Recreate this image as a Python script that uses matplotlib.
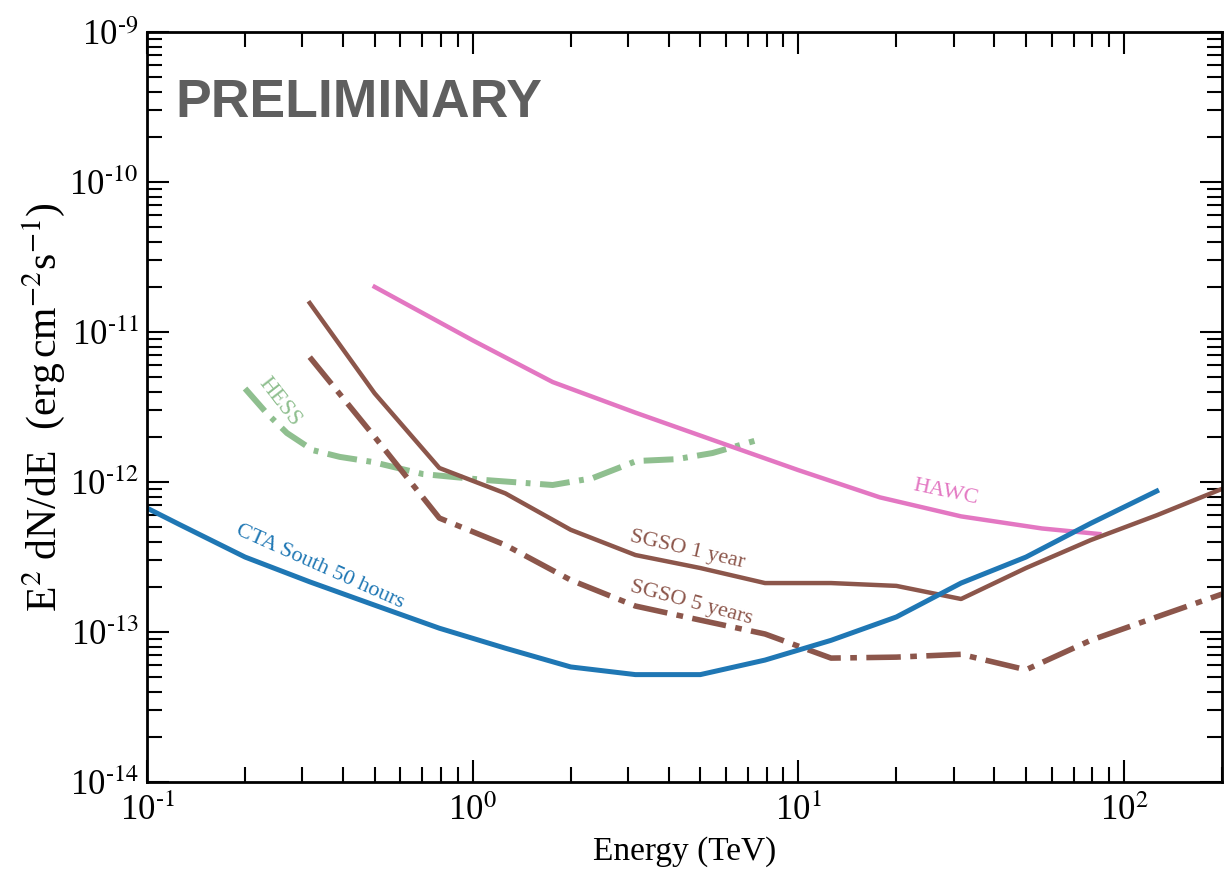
import numpy as np
import matplotlib
matplotlib.use('Agg')
from matplotlib import pyplot as plt
from matplotlib.ticker import LogLocator, FuncFormatter, NullFormatter

plt.rcParams['font.family'] = ['Liberation Serif', 'DejaVu Serif']
plt.rcParams['mathtext.fontset'] = 'stix'

# CTA South 50 hours
cta_e = [0.1, 0.126, 0.2, 0.316, 0.5, 0.79, 1.26, 2.0, 3.16, 5.0, 7.9, 12.6, 20.0, 31.6, 50.0, 79.0, 126.0]
cta_f = [6.7e-13, 5.2e-13, 3.16e-13, 2.16e-13, 1.51e-13, 1.06e-13, 7.8e-14, 5.85e-14, 5.2e-14,
         5.2e-14, 6.5e-14, 8.8e-14, 1.26e-13, 2.12e-13, 3.16e-13, 5.3e-13, 8.7e-13]

# SGSO 1 year
sgso1_e = [0.316, 0.5, 0.79, 1.26, 2.0, 3.16, 5.0, 7.9, 12.6, 20.0, 31.6, 50.0, 79.0, 126.0, 200.0]
sgso1_f = [1.56e-11, 3.9e-12, 1.24e-12, 8.4e-13, 4.8e-13, 3.26e-13, 2.67e-13, 2.12e-13, 2.12e-13,
           2.03e-13, 1.66e-13, 2.67e-13, 4.1e-13, 6.0e-13, 9.0e-13]

# SGSO 5 years
sgso5_e = [0.316, 0.5, 0.79, 1.26, 2.0, 3.16, 5.0, 7.9, 12.6, 20.0, 31.6, 50.0, 79.0, 126.0, 200.0]
sgso5_f = [6.8e-12, 2.0e-12, 5.75e-13, 3.8e-13, 2.22e-13, 1.49e-13, 1.2e-13, 9.7e-14, 6.7e-14,
           6.8e-14, 7.1e-14, 5.6e-14, 8.8e-14, 1.26e-13, 1.79e-13]

# HAWC
hawc_e = [0.5, 1.0, 1.76, 3.16, 5.6, 10.0, 17.8, 31.6, 56.0, 84.0]
hawc_f = [2.0e-11, 8.8e-12, 4.64e-12, 2.9e-12, 1.87e-12, 1.2e-12, 7.9e-13, 5.9e-13, 4.9e-13, 4.5e-13]

# HESS
hess_e = [0.2, 0.233, 0.269, 0.323, 0.391, 0.493, 0.703, 1.1, 1.76, 2.33, 3.18, 4.23, 5.45, 7.33]
hess_f = [4.2e-12, 2.88e-12, 2.12e-12, 1.63e-12, 1.47e-12, 1.36e-12, 1.13e-12, 1.03e-12, 9.55e-13,
          1.06e-12, 1.38e-12, 1.42e-12, 1.56e-12, 1.88e-12]

blue = '#1f77b4'
brown = '#8c564b'
pink = '#e377c2'
green = '#8fbf8f'

fig = plt.figure(figsize=(12.25, 8.72), dpi=100)
ax = fig.add_axes([0.12, 0.1032, 0.8776, 0.8601])

ax.plot(hess_e, hess_f, color=green, lw=4.3, dashes=[5, 1.6, 0.8, 1.6])
ax.plot(hawc_e, hawc_f, color=pink, lw=3.2)
ax.plot(sgso1_e, sgso1_f, color=brown, lw=3.2)
ax.plot(sgso5_e, sgso5_f, color=brown, lw=4.0, dashes=[6.2, 1.7, 1.2, 1.7])
ax.plot(cta_e, cta_f, color=blue, lw=3.6)

ax.set_xscale('log')
ax.set_yscale('log')
ax.set_xlim(0.1, 200)
ax.set_ylim(1e-14, 1e-9)


def pow_label(v, pos):
    e = int(round(np.log10(v)))
    if e < 0:
        return '10$^{\\text{-}%d}$' % -e
    return '10$^{%d}$' % e


for axis in (ax.xaxis, ax.yaxis):
    axis.set_major_locator(LogLocator(base=10, numticks=20))
    axis.set_minor_locator(LogLocator(base=10, subs=np.arange(2, 10), numticks=20))
    axis.set_major_formatter(FuncFormatter(pow_label))
    axis.set_minor_formatter(NullFormatter())

ax.tick_params(which='both', direction='in', top=True, right=True, width=1.5, labelsize=25)
ax.tick_params(which='major', length=16)
ax.tick_params(which='minor', length=10.5)
ax.tick_params(axis='x', which='major', pad=9)
ax.tick_params(axis='y', which='major', pad=6)
for s in ax.spines.values():
    s.set_linewidth(2)

ax.set_xlabel('Energy (TeV)', fontsize=24, labelpad=6)
ax.set_ylabel(r'E$^2$ dN/dE  (erg$\,$cm$^{-2}$s$^{-1}$)', fontsize=30, labelpad=2)

ax.text(0.026, 0.905, 'PRELIMINARY', transform=ax.transAxes, ha='left', va='center',
        fontsize=38.5, fontweight='bold', color='#5f5f5f', family='Liberation Sans')

ax.text(0.34, 2.71e-13, 'CTA South 50 hours', color=blue, fontsize=16, rotation=-24,
        ha='center', va='center', rotation_mode='anchor')
ax.text(0.256, 3.41e-12, 'HESS', color=green, fontsize=16.5, rotation=-52,
        ha='center', va='center', rotation_mode='anchor')
ax.text(4.57, 3.52e-13, 'SGSO 1 year', color=brown, fontsize=16, rotation=-13,
        ha='center', va='center', rotation_mode='anchor')
ax.text(4.7, 1.56e-13, 'SGSO 5 years', color=brown, fontsize=16, rotation=-15,
        ha='center', va='center', rotation_mode='anchor')
ax.text(28.4, 8.45e-13, 'HAWC', color=pink, fontsize=16, rotation=-12,
        ha='center', va='center', rotation_mode='anchor')

fig.savefig('out.png', dpi=100)
